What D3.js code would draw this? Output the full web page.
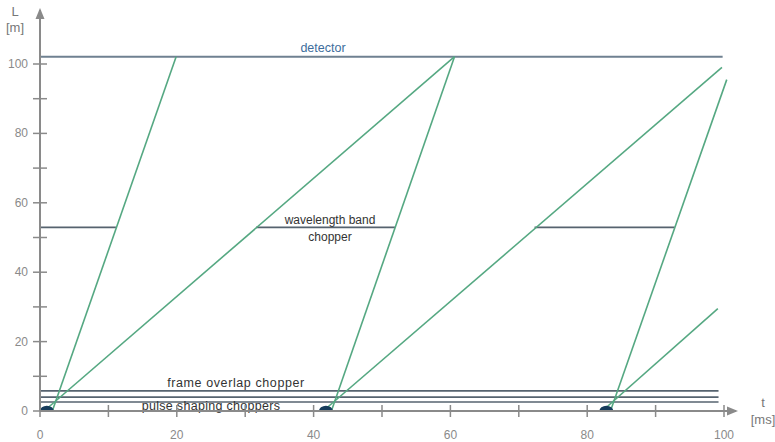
<!DOCTYPE html>
<html><head><meta charset="utf-8">
<script src="https://cdn.jsdelivr.net/npm/d3@7"></script>
<style>body{margin:0;background:#fff;}svg{display:block;font-family:"Liberation Sans",Arial,sans-serif;}</style>
</head><body><svg id="c" width="775" height="442"></svg>
<script>
// ---- data ----
const xTicks = [0,10,20,30,40,50,60,70,80,90,100];
const xTickLabels = [0,20,40,60,80,100];
const yTicks = [0,10,20,30,40,50,60,70,80,90,100];
const yTickLabels = [0,20,40,60,80,100];
const detectorL = 102.1;
const detectorEnd = 99.8;
const bandChopperL = 52.9;
const bandOpen = [[0,11.1],[31.6,51.9],[72.3,92.8]];   // closed segments drawn
const frameOverlapL = 5.8;
const pulseShapingL = [4.0, 2.6];
const chopperEnd = 99.2;
const sourceTimes = [1.0, 41.8, 82.8];
// neutron paths: [t0, L0, t1, L1]
const paths = [
  [1.8,0,19.9,102.1],[0.6,0,60.6,102.1],
  [42.6,0,60.6,102.1],[41.4,0,99.7,99],
  [83.4,0,100.4,95.5],[82.2,0,99.1,29.5]
];
// ---- drawing ----
const svg = d3.select("#c");
const x = d3.scaleLinear().domain([0,100]).range([40,724]);
const y = d3.scaleLinear().domain([0,100]).range([411,64]);
const axisCol = "#8a8a8a", lineCol = "#56636f", green = "#55a882";

// detector
svg.append("line").attr("x1",x(0)).attr("x2",x(detectorEnd)).attr("y1",y(detectorL)).attr("y2",y(detectorL))
  .attr("stroke","#6f8191").attr("stroke-width",2);
svg.append("text").attr("x",323).attr("y",y(detectorL)-5).attr("text-anchor","middle")
  .attr("font-size",12.5).attr("fill","#3d6d9c").text("detector");

// wavelength band chopper
svg.selectAll(".band").data(bandOpen).enter().append("line")
  .attr("x1",d=>x(d[0])).attr("x2",d=>x(d[1])).attr("y1",y(bandChopperL)).attr("y2",y(bandChopperL))
  .attr("stroke",lineCol).attr("stroke-width",1.7);
svg.append("text").attr("x",330).attr("y",y(bandChopperL)-3).attr("text-anchor","middle")
  .attr("font-size",12).attr("fill","#333").text("wavelength band");
svg.append("text").attr("x",330).attr("y",y(bandChopperL)+14).attr("text-anchor","middle")
  .attr("font-size",12).attr("fill","#333").text("chopper");

// bottom choppers
[frameOverlapL, ...pulseShapingL].forEach(L=>{
  svg.append("line").attr("x1",x(0)).attr("x2",x(chopperEnd)).attr("y1",y(L)).attr("y2",y(L))
    .attr("stroke",lineCol).attr("stroke-width",1.7);
});
svg.append("text").attr("x",236).attr("y",y(frameOverlapL)-4).attr("text-anchor","middle")
  .attr("font-size",12.5).attr("letter-spacing",0.6).attr("fill","#333").text("frame overlap chopper");
svg.append("text").attr("x",211).attr("y",y(pulseShapingL[1])+8.5).attr("text-anchor","middle")
  .attr("font-size",12.5).attr("letter-spacing",0.3).attr("fill","#333").text("pulse shaping choppers");

// neutron paths
svg.selectAll(".path").data(paths).enter().append("line")
  .attr("x1",d=>x(d[0])).attr("y1",d=>y(d[1])).attr("x2",d=>x(d[2])).attr("y2",d=>y(d[3]))
  .attr("stroke",green).attr("stroke-width",1.6);

// sources
const arc = d3.arc().innerRadius(0).outerRadius(7).startAngle(-Math.PI/2).endAngle(Math.PI/2);
svg.selectAll(".src").data(sourceTimes).enter().append("path")
  .attr("d",arc).attr("transform",d=>`translate(${x(d)},${y(0)}) scale(1,0.75)`)
  .attr("fill","#163c5c");

// axes
svg.append("line").attr("x1",x(0)).attr("x2",736).attr("y1",y(0)).attr("y2",y(0)).attr("stroke",axisCol).attr("stroke-width",2);
svg.append("line").attr("x1",x(0)).attr("x2",x(0)).attr("y1",y(0)).attr("y2",10).attr("stroke",axisCol).attr("stroke-width",2);
svg.append("path").attr("d",`M${x(0)},8 L${x(0)-4.5},19 L${x(0)+4.5},19 Z`).attr("fill",axisCol);
svg.append("path").attr("d",`M738,${y(0)} L727,${y(0)-4.5} L727,${y(0)+4.5} Z`).attr("fill",axisCol);

svg.selectAll(".xt").data(xTicks).enter().append("line")
  .attr("x1",d=>x(d)).attr("x2",d=>x(d)).attr("y1",y(0)-6).attr("y2",y(0)+6).attr("stroke",axisCol).attr("stroke-width",1.5);
svg.selectAll(".yt").data(yTicks).enter().append("line")
  .attr("y1",d=>y(d)).attr("y2",d=>y(d)).attr("x1",x(0)-7).attr("x2",x(0)+7).attr("stroke",axisCol).attr("stroke-width",1.5);
svg.selectAll(".xl").data(xTickLabels).enter().append("text")
  .attr("x",d=>x(d)).attr("y",438.5).attr("text-anchor","middle").attr("font-size",12).attr("fill","#8a8a8a").text(d=>d);
svg.selectAll(".yl").data(yTickLabels).enter().append("text")
  .attr("x",28).attr("y",d=>y(d)+4).attr("text-anchor","end").attr("font-size",12).attr("fill","#8a8a8a").text(d=>d);

svg.append("text").attr("x",15).attr("y",16).attr("text-anchor","middle").attr("font-size",13).attr("fill","#777").text("L");
svg.append("text").attr("x",15).attr("y",32).attr("text-anchor","middle").attr("font-size",13).attr("fill","#777").text("[m]");
svg.append("text").attr("x",763).attr("y",407).attr("text-anchor","middle").attr("font-size",13).attr("fill","#777").text("t");
svg.append("text").attr("x",763).attr("y",424).attr("text-anchor","middle").attr("font-size",13).attr("fill","#777").text("[ms]");
</script></body></html>
